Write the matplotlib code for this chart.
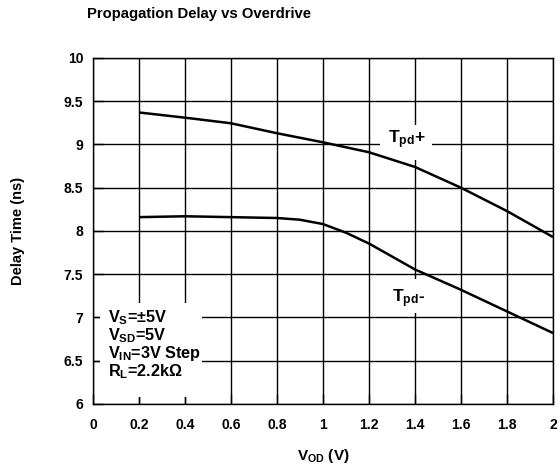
import matplotlib
matplotlib.use("Agg")
import matplotlib.pyplot as plt
from matplotlib.patches import Rectangle

plt.rcParams['font.family'] = ['Liberation Sans', 'DejaVu Sans']
plt.rcParams['font.weight'] = 'bold'
plt.rcParams['axes.labelweight'] = 'bold'
plt.rcParams['mathtext.fontset'] = 'custom'
plt.rcParams['mathtext.rm'] = 'Liberation Sans:bold'
plt.rcParams['mathtext.bf'] = 'Liberation Sans:bold'
plt.rcParams['mathtext.it'] = 'Liberation Sans:bold'

title = "Propagation Delay vs Overdrive"
x_plus = [0.2, 0.4, 0.6, 0.8, 1.0, 1.2, 1.4, 1.6, 1.8, 2.0]
tpd_plus = [9.37, 9.31, 9.245, 9.13, 9.025, 8.91, 8.74, 8.5, 8.23, 7.93]
x_minus = [0.2, 0.4, 0.6, 0.8, 0.9, 1.0, 1.1, 1.2, 1.4, 1.6, 1.8, 2.0]
tpd_minus = [8.16, 8.17, 8.16, 8.15, 8.13, 8.08, 7.98, 7.855, 7.555, 7.32, 7.07, 6.82]
xticks = [0, 0.2, 0.4, 0.6, 0.8, 1, 1.2, 1.4, 1.6, 1.8, 2]
xticklabels = ['0', '0.2', '0.4', '0.6', '0.8', '1', '1.2', '1.4', '1.6', '1.8', '2']
yticks = [6, 6.5, 7, 7.5, 8, 8.5, 9, 9.5, 10]
yticklabels = ['6', '6.5', '7', '7.5', '8', '8.5', '9', '9.5', '10']
legend_lines = [r'V$_{S}$=±5V', r'V$_{SD}$=5V', r'V$_{IN}$=3V Step', r'R$_{L}$=2.2kΩ']

fig = plt.figure(figsize=(5.6, 4.74), dpi=100)
ax = fig.add_axes([0.166, 0.1477, 0.8215, 0.73])

ax.set_xlim(0, 2)
ax.set_ylim(6, 10)
ax.set_xticks(xticks)
ax.set_xticklabels(xticklabels, fontweight='bold')
ax.set_yticks(yticks)
ax.set_yticklabels(yticklabels, fontweight='bold')
ax.tick_params(direction='in', length=7, width=1, labelsize=10, colors='black')
ax.tick_params(axis='x', pad=10)
ax.tick_params(axis='y', pad=7)
ax.grid(True, color='black', linewidth=1.0, zorder=1)
ax.set_axisbelow(True)
for s in ax.spines.values():
    s.set_linewidth(1.0)
    s.set_zorder(6)

ax.plot(x_plus, tpd_plus, color='black', linewidth=1.8, zorder=3, solid_capstyle='butt')
ax.plot(x_minus, tpd_minus, color='black', linewidth=1.8, zorder=3, solid_capstyle='butt')

# white boxes covering grid behind labels
ax.add_patch(Rectangle((0.03, 6.08), 0.445, 1.09, facecolor='white', edgecolor='none', zorder=2))
ax.add_patch(Rectangle((1.25, 8.82), 0.225, 0.4, facecolor='white', edgecolor='none', zorder=2))
ax.add_patch(Rectangle((1.25, 7.05), 0.225, 0.4, facecolor='white', edgecolor='none', zorder=2))

ax.text(1.365, 9.05, r'T$_{pd}$+', ha='center', va='center', fontsize=12.5, fontweight='bold', zorder=5)
ax.text(1.37, 7.22, r'T$_{pd}$-', ha='center', va='center', fontsize=12.5, fontweight='bold', zorder=5)

for i, line in enumerate(legend_lines):
    ax.text(0.065, 7.0 - i * 0.208, line, ha='left', va='center', fontsize=11.7,
            fontweight='bold', zorder=5)

fig.text(0.155, 0.97, title, ha='left', va='center', fontsize=10.7, fontweight='bold')
ax.set_xlabel(r'V$_{OD}$ (V)', fontsize=11, fontweight='bold', labelpad=11)
ax.set_ylabel('Delay Time (ns)', fontsize=10.5, fontweight='bold', labelpad=28)

fig.savefig('out.png', dpi=100)
